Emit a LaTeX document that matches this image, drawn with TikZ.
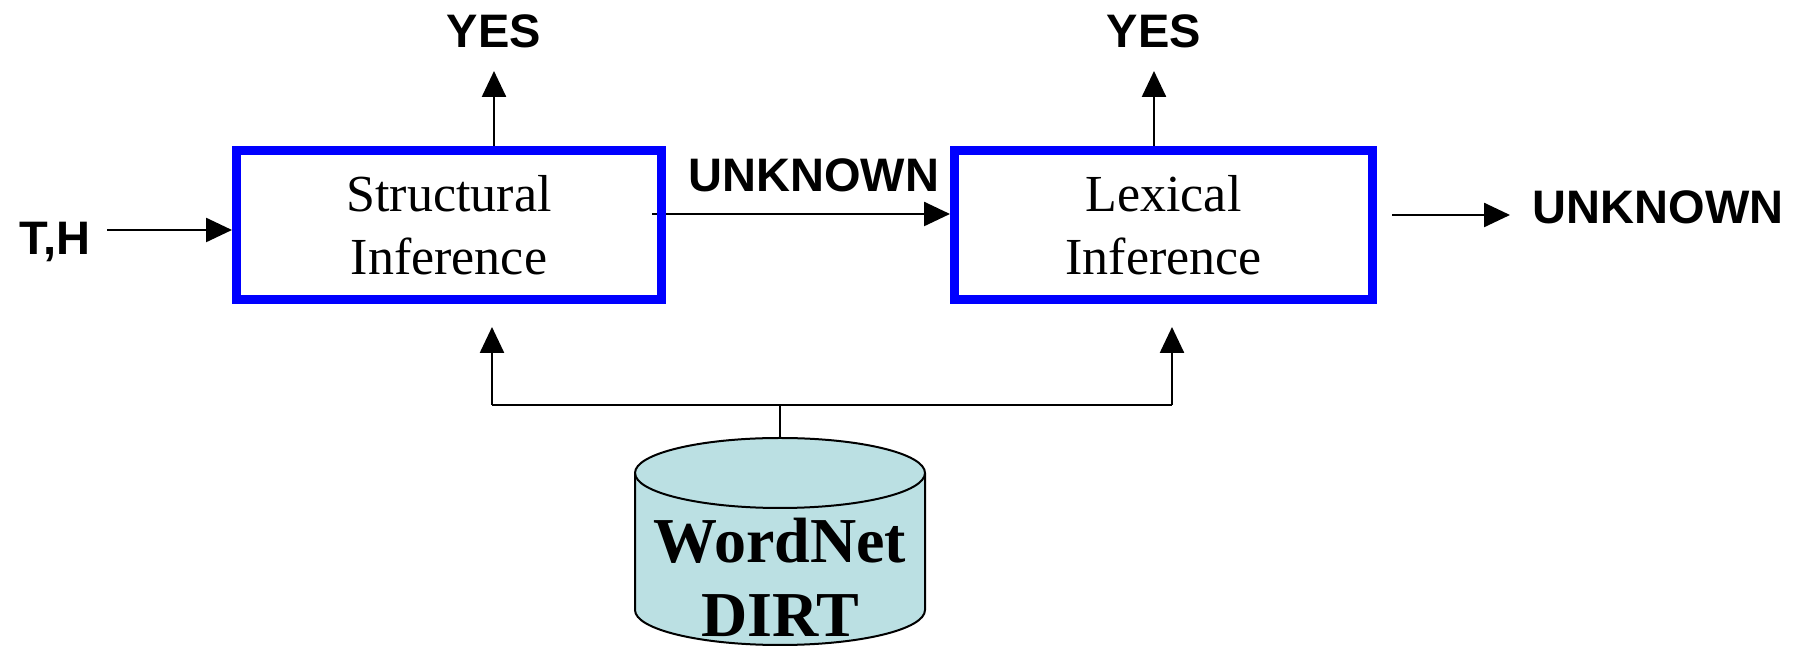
\documentclass[tikz,border=0pt]{standalone}
\usepackage{fontspec}
\setmainfont{Liberation Serif}
\newfontfamily\labelfont{Liberation Sans}
\usetikzlibrary{arrows.meta,backgrounds}
\definecolor{dbfill}{RGB}{187,224,227}
\begin{document}
\begin{tikzpicture}[x=1pt,y=1pt,
  stagebox/.style={draw=blue, line width=9pt, minimum width=425pt, minimum height=149pt,
    inner sep=0pt, align=center, font=\fontsize{52}{63}\selectfont},
  tag/.style={font=\labelfont\bfseries\fontsize{47}{56}\selectfont, inner sep=0pt, anchor=base},
  dbtext/.style={font=\bfseries\fontsize{64}{70}\selectfont, inner sep=0pt, anchor=base},
  flow/.style={line width=2.5pt, -{Triangle[length=26pt,width=24pt]}},
  link/.style={line width=2.5pt},
  dbline/.style={line width=2pt},
]
\useasboundingbox (0,0) rectangle (1801,647);

% processing stages
\node[stagebox] (struct) at (449,422) {Structural\\Inference};
\node[stagebox, minimum width=418pt] (lex) at (1163.5,422) {Lexical\\Inference};

% outcome labels
\node[tag] (yes1) at (494,599) {YES};
\node[tag] (yes2) at (1154,599) {YES};
\node[tag] (th) at (55,392) {T,H};
\node[tag] (unk1) at (814,455) {UNKNOWN};
\node[tag] (unk2) at (1658,423) {UNKNOWN};

% free ends of connectors
\coordinate (inStart) at (107,417);
\coordinate (inEnd) at (232,417);
\coordinate (midStart) at (652,433);
\coordinate (midEnd) at (950,433);
\coordinate (outStart) at (1392,432);
\coordinate (outEnd) at (1510,432);
\coordinate (yes1Tip) at (494,576);
\coordinate (yes1Base) at (494,501);
\coordinate (yes2Tip) at (1154,576);
\coordinate (yes2Base) at (1154,501);
\coordinate (busL) at (492,242);
\coordinate (busR) at (1172,242);
\coordinate (busM) at (780,242);
\coordinate (feedL) at (492,320);
\coordinate (feedR) at (1172,320);
\coordinate (dbtop) at (780,209);

% connectors
\draw[flow] (inStart) -- (inEnd);
\begin{pgfonlayer}{background}
  \draw[flow] (midStart) -- (midEnd);
\end{pgfonlayer}
\draw[flow] (outStart) -- (outEnd);
\draw[flow] (yes1Base) -- (yes1Tip);
\draw[flow] (yes2Base) -- (yes2Tip);

% knowledge resources feeding both stages
\draw[link] (busL) -- (busR);
\draw[flow] (busL) -- (feedL);
\draw[flow] (busR) -- (feedR);
\draw[link] (busM) -- (dbtop);

% database cylinder
\filldraw[fill=dbfill, dbline] (635,174) -- (635,37)
  arc[start angle=180, end angle=360, x radius=145pt, y radius=35pt]
  -- (925,174)
  arc[start angle=0, end angle=180, x radius=145pt, y radius=35pt] -- cycle;
\draw[dbline] (635,174) arc[start angle=180, end angle=360, x radius=145pt, y radius=35pt];
\node[dbtext] (wordnet) at (780,84) {WordNet};
\node[dbtext] (dirt) at (780,10) {DIRT};
\end{tikzpicture}
\end{document}
